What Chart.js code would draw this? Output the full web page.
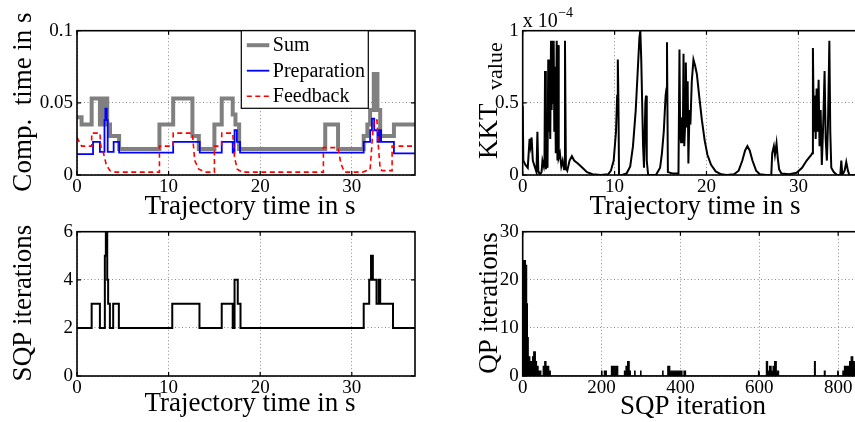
<!DOCTYPE html>
<html>
<head>
<meta charset="utf-8">
<script src="https://cdn.jsdelivr.net/npm/chart.js@4.4.1/dist/chart.umd.min.js"></script>
<style>
  html, body { margin:0; padding:0; background:#fff; overflow:hidden; width:855px; height:422px; }
  canvas { position:absolute; left:0; top:0; }
</style>
</head>
<body>
<canvas id="cTL" width="870" height="422"></canvas>
<canvas id="cTR" width="870" height="422"></canvas>
<canvas id="cBL" width="870" height="422"></canvas>
<canvas id="cBR" width="870" height="422"></canvas>
<script>
// ---- data ----
const timeTicks = [0, 10, 20, 30];
const compTicks = [0, 0.05, 0.1];
const kktTicks  = [0, 0.5, 1];
const sqpTicks  = [0, 2, 4, 6];
const qpTicks   = [0, 10, 20, 30];
const iterTicks = [0, 200, 400, 600, 800];

// computation time, stairs: value holds from t[i] to t[i+1]
const sumT  = [0, 0.5, 1.6, 2.5, 2.9, 3.3, 3.6, 4.6, 9.0, 10.5, 12.6, 13.3, 15.0, 15.8, 17.0, 17.3, 17.7, 27.1, 28.5, 31.3, 31.7, 32.0, 32.4, 32.8, 33.1, 34.6, 36.9];
const sumV  = [0.040, 0.035, 0.053, 0.035, 0.053, 0.035, 0.027, 0.018, 0.035, 0.053, 0.027, 0.018, 0.035, 0.053, 0.042, 0.035, 0.018, 0.035, 0.018, 0.027, 0.035, 0.045, 0.070, 0.045, 0.027, 0.035, 0.035];
const prepT = [0, 1.75, 2.5, 3.0, 3.1, 3.25, 3.35, 4.0, 4.6, 10.5, 13.4, 15.8, 17.0, 17.2, 17.45, 17.8, 31.3, 32.0, 32.2, 32.45, 32.8, 33.0, 33.2, 34.6, 36.9];
const prepV = [0.0145, 0.023, 0.016, 0.038, 0.046, 0.038, 0.016, 0.023, 0.0155, 0.023, 0.0155, 0.023, 0.0155, 0.031, 0.023, 0.0155, 0.023, 0.031, 0.039, 0.031, 0.023, 0.031, 0.023, 0.015, 0.015];
// feedback, polyline
const fbT = [0, 0.5, 1.6, 1.6, 2.5, 2.6, 2.9, 3.2, 3.6, 4.2, 9.0, 9.0, 10.5, 10.5, 12.6, 12.85, 13.3, 14.0, 15.0, 15.0, 15.8, 15.8, 17.0, 17.2, 17.5, 18.0, 26.9, 26.9, 28.5, 28.8, 29.2, 31.2, 32.0, 32.3, 32.45, 32.75, 32.9, 33.1, 33.3, 34.4, 34.4, 36.9];
const fbV = [0.026, 0.020, 0.020, 0.029, 0.029, 0.020, 0.015, 0.007, 0.003, 0.002, 0.002, 0.020, 0.020, 0.029, 0.029, 0.010, 0.004, 0.002, 0.002, 0.020, 0.020, 0.029, 0.029, 0.012, 0.004, 0.002, 0.002, 0.019, 0.019, 0.008, 0.002, 0.002, 0.004, 0.030, 0.038, 0.038, 0.020, 0.004, 0.003, 0.003, 0.020, 0.020];

// KKT value in units of 1e-4
const kktT = [0, 0.07, 0.3, 0.55, 0.75, 0.85, 0.97, 1.1, 1.3, 1.5, 1.6, 1.7, 1.85, 2.05, 2.15, 2.3, 2.37, 2.43, 2.52, 2.62, 2.7, 2.78, 2.86, 2.93, 3.0, 3.08, 3.15, 3.22, 3.3, 3.37, 3.44, 3.52, 3.6, 3.7, 3.78, 3.85, 3.92, 4.05, 4.2, 4.35, 4.5, 4.6, 4.7, 4.85, 5.1, 5.35, 5.6, 6.0, 6.5, 7.0, 7.6, 8.5, 9.3, 9.6, 9.9, 10.15, 10.28, 10.35, 10.42, 10.48, 10.8, 11.3, 11.7, 12.0, 12.3, 12.5, 12.7, 12.8, 12.9, 13.0, 13.1, 13.2, 13.35, 13.42, 13.5, 13.65, 14.5, 14.95, 15.15, 15.35, 15.55, 15.65, 15.7, 15.8, 16.3, 16.95, 17.06, 17.13, 17.24, 17.35, 17.42, 17.5, 17.58, 17.68, 17.75, 17.85, 17.95, 18.03, 18.15, 18.25, 18.4, 18.58, 18.75, 18.95, 19.2, 19.5, 19.8, 20.1, 20.5, 21.0, 21.6, 22.2, 23.0, 23.5, 23.9, 24.2, 24.45, 24.7, 25.0, 25.4, 25.8, 26.5, 27.05, 27.15, 27.33, 27.45, 27.62, 27.75, 27.9, 28.15, 29.0, 29.8, 30.4, 30.9, 31.4, 31.5, 31.58, 31.68, 31.78, 31.88, 31.98, 32.08, 32.2, 32.3, 32.42, 32.55, 32.7, 32.85, 32.97, 33.1, 33.22, 33.37, 33.47, 33.58, 33.85, 34.2, 34.56, 34.67, 34.78, 35.03, 35.21, 35.39, 35.55, 36.9];
const kktV = [0.48, 0.1, 0.07, 0.05, 0.25, 0.2, 0.26, 0.1, 0.06, 0.02, 0.3, 0.03, 0, 0.02, 0.1, 0.06, 0.1, 0.72, 0.04, 0.1, 0.05, 0.8, 0.3, 0.45, 0.25, 0.93, 0.45, 0.9, 0.5, 0.93, 0.3, 0.75, 0.15, 0.93, 0.1, 0.9, 0.12, 0.15, 0.06, 0.1, 0.04, 0.93, 0.05, 0.03, 0.1, 0.13, 0.1, 0.08, 0.05, 0.02, 0.005, 0, 0.005, 0.03, 0.1, 0.3, 0.55, 0.8, 0.5, 0, 0, 0.01, 0.06, 0.2, 0.45, 0.7, 0.95, 1.0, 0.8, 0.5, 0.2, 0.05, 0.5, 0.55, 0.1, 0, 0, 0.05, 0.15, 0.3, 0.55, 0.6, 0.92, 0.02, 0.01, 0.01, 0.87, 0.3, 0.22, 0.4, 0.22, 0.84, 0.2, 0.35, 0.78, 0.33, 0.65, 0.08, 0.45, 0.35, 0.65, 0.8, 0.76, 0.7, 0.55, 0.38, 0.24, 0.14, 0.07, 0.025, 0.005, 0, 0.005, 0.03, 0.1, 0.17, 0.2, 0.17, 0.1, 0.03, 0.005, 0, 0, 0.15, 0.2, 0.14, 0.22, 0.12, 0.04, 0.01, 0.005, 0.015, 0.05, 0.1, 0.14, 0.15, 0.88, 0.3, 0.55, 0.25, 0.6, 0.3, 0.66, 0.2, 0.45, 0.07, 0.35, 0.72, 0.25, 0.1, 0.35, 0.93, 0.3, 0.05, 0.02, 0, 0, 0.1, 0, 0.03, 0.09, 0.03, 0, 0];

// SQP iterations per sample, stairs
const sqpT = [0, 1.6, 2.5, 3.04, 3.15, 3.3, 3.4, 3.59, 3.95, 4.57, 10.4, 13.37, 15.8, 17.0, 17.2, 17.55, 17.85, 31.3, 31.9, 32.1, 32.3, 32.7, 32.95, 33.1, 34.5, 36.9];
const sqpV = [2, 3, 2, 5, 6, 4, 3, 2, 3, 2, 3, 2, 3, 2, 4, 3, 2, 3, 4, 5, 4, 3, 4, 3, 2, 2];

// QP iterations per SQP iteration, stairs
const qpN = [0, 7, 10, 12, 14, 18, 25, 28, 32, 35, 39, 46, 52, 56, 59, 66, 70, 200, 201, 207, 208, 211, 212, 225, 229, 232, 236, 239, 241, 258, 262, 266, 270, 273, 284, 285, 299, 300, 355, 356, 368, 373, 398, 401, 404, 409, 413, 598, 599, 618, 621, 626, 630, 635, 639, 643, 649, 740, 742, 765, 767, 799, 800, 812, 816, 826, 829, 833, 837, 841, 860];
const qpV = [24, 23, 15, 8, 4, 3, 4, 5, 3, 2, 1, 0, 2, 3, 2, 1, 0, 1, 0, 1, 0, 1, 0, 2, 1, 2, 1, 2, 0, 1, 2, 3, 1, 0, 1, 0, 1, 0, 1, 0, 2, 1, 0, 1, 0, 1, 0, 1, 0, 3, 1, 2, 1, 2, 3, 1, 0, 3, 0, 1, 0, 1, 0, 1, 2, 1, 3, 4, 3, 2, 2];

// ---- layout ----
const W = 870, H = 422, YW = 60, XH = 30;
const BOX = {
  TL: {l:77,    t:30.7,  r:415,   b:175},
  TR: {l:522.7, t:30.7,  r:861.8, b:175},
  BL: {l:77,    t:231.7, r:415,   b:376},
  BR: {l:522.7, t:231.7, r:861.8, b:376}
};
const SERIF = '"Liberation Serif", "Times New Roman", serif';
const TICK_FONT = {family: SERIF, size: 19};
const TITLE = '27px ' + SERIF;

const pts = (xs, ys) => xs.map((x, i) => ({x, y: ys[i]}));

const frame = {
  id: 'frame',
  afterDraw(chart, args, o){
    const {ctx, chartArea:a, scales:{x, y}} = chart;
    ctx.save();
    // inward ticks
    ctx.strokeStyle = '#000'; ctx.lineWidth = 1.2;
    ctx.beginPath();
    x.ticks.forEach(t => { const p = x.getPixelForValue(t.value);
      ctx.moveTo(p, a.bottom); ctx.lineTo(p, a.bottom - 4); ctx.moveTo(p, a.top); ctx.lineTo(p, a.top + 4); });
    y.ticks.forEach(t => { const p = y.getPixelForValue(t.value);
      ctx.moveTo(a.left, p); ctx.lineTo(a.left + 4, p); ctx.moveTo(a.right, p); ctx.lineTo(a.right - 4, p); });
    ctx.stroke();
    ctx.lineWidth = 1.6;
    ctx.strokeRect(a.left, a.top, a.right - a.left, a.bottom - a.top);

    // legend
    if (o.legend) {
      const L = o.legend;
      ctx.fillStyle = '#fff';
      ctx.fillRect(L.x, L.y, L.w, L.h);
      ctx.lineWidth = 1.2; ctx.strokeStyle = '#000';
      ctx.strokeRect(L.x, L.y, L.w, L.h);
      ctx.font = '20px ' + SERIF; ctx.textAlign = 'left'; ctx.textBaseline = 'middle';
      chart.data.datasets.forEach((ds, i) => {
        const yy = L.y + 14.5 + i * 25.5;
        ctx.beginPath();
        ctx.strokeStyle = ds.borderColor; ctx.lineWidth = ds.borderWidth;
        ctx.setLineDash(ds.borderDash || []);
        ctx.moveTo(L.x + 5.5, yy); ctx.lineTo(L.x + 28, yy); ctx.stroke();
        ctx.setLineDash([]);
        ctx.fillStyle = '#000';
        ctx.fillText(ds.label, L.x + 31.5, yy + 1);
      });
    }

    // axis titles
    ctx.fillStyle = '#000';
    ctx.font = TITLE;
    ctx.textAlign = 'center'; ctx.textBaseline = 'alphabetic';
    ctx.fillText(o.xTitle, o.xTitleX, o.xTitleY);

    // y title, rotated; parts = [text, font, screen y where the text starts, offset right]
    ctx.save();
    ctx.translate(o.yTitleX, 0);
    ctx.rotate(-Math.PI / 2);
    o.yTitle.forEach(([txt, font, startY, dx]) => {
      ctx.font = font;
      if (startY == null) { ctx.textAlign = 'center'; ctx.fillText(txt, -o.yTitleY, dx || 0); }
      else { ctx.textAlign = 'left'; ctx.fillText(txt, -startY, dx || 0); }
    });
    ctx.restore();

    // exponent label
    if (o.exponent) {
      ctx.textAlign = 'left';
      ctx.font = '20px ' + SERIF;
      ctx.fillText('x 10', a.left, 26.5);
      const wx = ctx.measureText('x 10').width;
      ctx.font = '14px ' + SERIF;
      ctx.fillText('\u22124', a.left + wx + 0.5, 17);
    }
    ctx.restore();
  }
};

function axis(min, max, tickList, size, isX){
  return {
    type: 'linear', min, max,
    afterBuildTicks: s => { s.ticks = tickList.map(v => ({value: v})); },
    afterFit: s => {
      if (isX) s.height = size; else s.width = size;
      s.paddingLeft = 0; s.paddingRight = 0; s.paddingTop = 0; s.paddingBottom = 0;
    },
    ticks: { color: '#000', font: TICK_FONT, padding: isX ? 1 : 4, maxRotation: 0, autoSkip: false,
             includeBounds: false, callback: v => String(v) },
    grid: { color: '#8c8c8c', lineWidth: 1, drawTicks: false },
    border: { display: false, dash: [1, 2.5] }
  };
}

function makeChart(id, box, datasets, xAx, yAx, deco){
  return new Chart(document.getElementById(id), {
    type: 'line',
    data: { datasets },
    options: {
      responsive: false, animation: false, events: [],
      layout: { padding: { left: box.l - YW, top: box.t, right: W - box.r, bottom: H - box.b - XH } },
      elements: { point: { radius: 0 }, line: { tension: 0, borderJoinStyle: 'miter' } },
      scales: { x: xAx, y: yAx },
      plugins: { legend: { display: false }, tooltip: { enabled: false }, frame: deco }
    },
    plugins: [frame]
  });
}

// top left: computation time
makeChart('cTL', BOX.TL, [
  { label: 'Sum', data: pts(sumT, sumV), stepped: true, borderColor: '#808080', borderWidth: 4, order: 3 },
  { label: 'Preparation', data: pts(prepT, prepV), stepped: true, borderColor: '#0000ff', borderWidth: 1.8, order: 2 },
  { label: 'Feedback', data: pts(fbT, fbV), borderColor: '#ff0000', borderWidth: 1.6, borderDash: [5, 3.5], order: 1 }
], axis(0, 36.9, timeTicks, XH, true), axis(0, 0.1, compTicks, YW, false), {
  xTitle: 'Trajectory time in s', xTitleX: 250, xTitleY: 214,
  yTitle: [['Comp.  time in s', TITLE]], yTitleX: 31, yTitleY: 102,
  legend: { x: 241.3, y: 30.7, w: 127, h: 77.6 }
});

// top right: KKT value
makeChart('cTR', BOX.TR, [
  { label: 'KKT', data: pts(kktT, kktV), borderColor: '#000', borderWidth: 2 }
], axis(0, 36.9, timeTicks, XH, true), axis(0, 1, kktTicks, YW, false), {
  xTitle: 'Trajectory time in s', xTitleX: 695, xTitleY: 214,
  yTitle: [['KKT', TITLE, 159, 0], ['value', '22px ' + SERIF, 90, 5]], yTitleX: 497, yTitleY: 101,
  exponent: true
});

// bottom left: SQP iterations
makeChart('cBL', BOX.BL, [
  { label: 'SQP', data: pts(sqpT, sqpV), stepped: true, borderColor: '#000', borderWidth: 2 }
], axis(0, 36.9, timeTicks, XH, true), axis(0, 6, sqpTicks, YW, false), {
  xTitle: 'Trajectory time in s', xTitleX: 250, xTitleY: 411,
  yTitle: [['SQP iterations', TITLE]], yTitleX: 31, yTitleY: 303
});

// bottom right: QP iterations
makeChart('cBR', BOX.BR, [
  { label: 'QP', data: pts(qpN, qpV), stepped: true, borderColor: '#000', borderWidth: 1.2,
    fill: 'origin', backgroundColor: '#000' }
], axis(0, 860, iterTicks, XH, true), axis(0, 30, qpTicks, YW, false), {
  xTitle: 'SQP iteration', xTitleX: 693, xTitleY: 414,
  yTitle: [['QP iterations', TITLE]], yTitleX: 497, yTitleY: 303
});
</script>
</body>
</html>
